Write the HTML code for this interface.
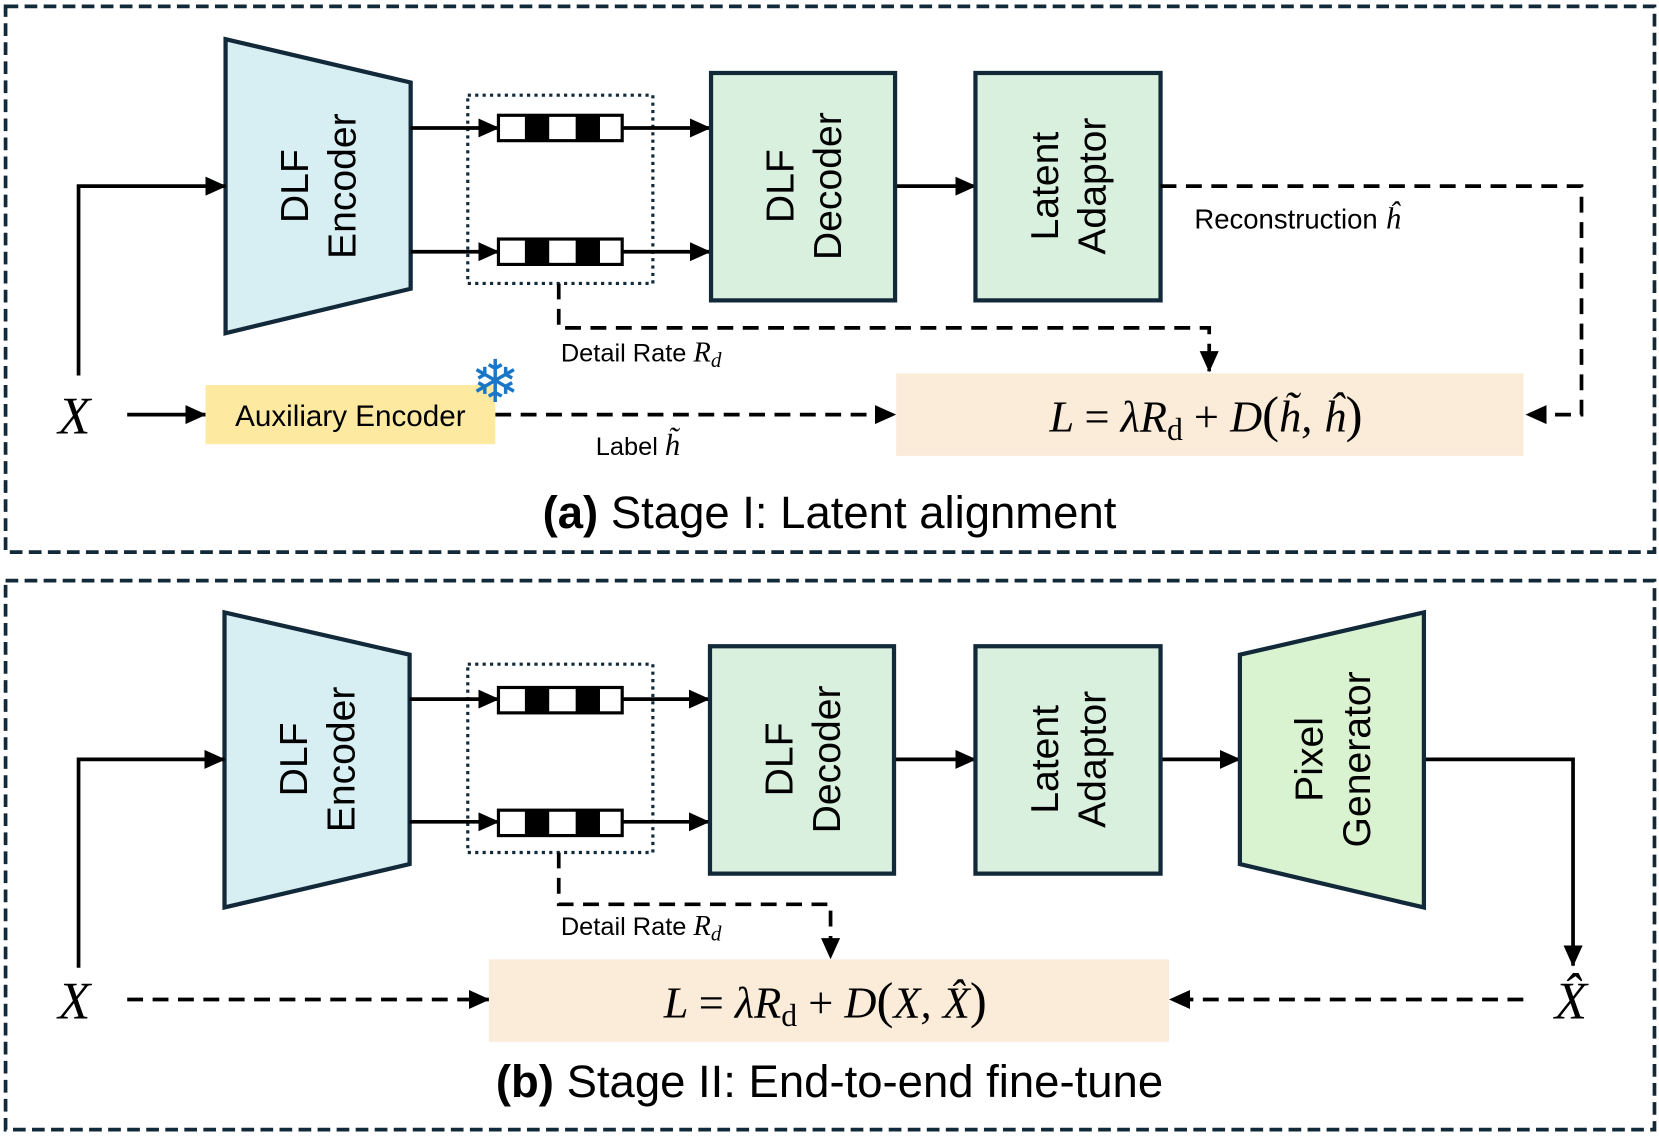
<!DOCTYPE html>
<html><head><meta charset="utf-8"><style>
html,body{margin:0;padding:0;background:#fff;}
svg{display:block;}
.s{font-family:"Liberation Sans",sans-serif;}
.m{font-family:"Liberation Serif",serif;font-style:italic;}
</style></head><body>
<svg width="1659" height="1137" viewBox="0 0 1568 1075" xmlns="http://www.w3.org/2000/svg">
<defs>
<marker id="ab" markerWidth="20" markerHeight="18" refX="19" refY="9" orient="auto" markerUnits="userSpaceOnUse" viewBox="0 0 20 18"><path d="M0,0 L20,9 L0,18 z" fill="#000"/></marker>
</defs>
<g fill="none" stroke="#12293a" stroke-width="3.5" stroke-dasharray="12,6">
<rect x="5" y="6" width="1559" height="516"/>
<rect x="5" y="549" width="1559" height="519"/>
</g>

<!-- ===== Stage I ===== -->
<polygon points="213,37 388,78 388,273 213,315" fill="#d7eef3" stroke="#12293a" stroke-width="4"/>
<text class="s" font-size="37" text-anchor="middle" transform="translate(300,176) rotate(-90)"><tspan x="0" y="-9">DLF</tspan><tspan x="0" y="36">Encoder</tspan></text>
<rect x="442" y="90" width="175" height="178" fill="none" stroke="#12293a" stroke-width="3" stroke-dasharray="3,4"/>
<g stroke="#000" stroke-width="3">
<rect x="471" y="109" width="117" height="24" fill="#fff"/>
<rect x="471" y="226" width="117" height="24" fill="#fff"/>
</g>
<g fill="#000"><rect x="496" y="109" width="23" height="24"/><rect x="544" y="109" width="23" height="24"/>
<rect x="496" y="226" width="23" height="24"/><rect x="544" y="226" width="23" height="24"/></g>
<g stroke="#000" stroke-width="3.5" fill="none" marker-end="url(#ab)">
<line x1="388" y1="121" x2="471" y2="121"/><line x1="588" y1="121" x2="671" y2="121"/>
<line x1="388" y1="238" x2="471" y2="238"/><line x1="588" y1="238" x2="671" y2="238"/>
<line x1="846" y1="176" x2="922" y2="176"/>
<polyline points="74,355 74,176 213,176"/>
<line x1="120" y1="392" x2="194" y2="392"/>
</g>
<rect x="672" y="69" width="174" height="215" fill="#d9f0df" stroke="#12293a" stroke-width="4"/>
<text class="s" font-size="37" text-anchor="middle" transform="translate(759,176) rotate(-90)"><tspan x="0" y="-9">DLF</tspan><tspan x="0" y="36">Decoder</tspan></text>
<rect x="922" y="69" width="175" height="215" fill="#d9f0df" stroke="#12293a" stroke-width="4"/>
<text class="s" font-size="37" text-anchor="middle" transform="translate(1009,176) rotate(-90)"><tspan x="0" y="-9">Latent</tspan><tspan x="0" y="36">Adaptor</tspan></text>
<g stroke="#000" stroke-width="3.5" fill="none" stroke-dasharray="15,9">
<polyline points="1097,176 1495,176 1495,392 1443,392" marker-end="url(#ab)"/>
<polyline points="528,268 528,310 1143,310 1143,351" marker-end="url(#ab)"/>
<line x1="468" y1="392" x2="846" y2="392" marker-end="url(#ab)"/>
</g>
<text class="s" x="1129" y="216" font-size="26">Reconstruction <tspan class="m" font-size="29">ĥ</tspan></text>
<text class="s" x="530" y="342" font-size="24">Detail Rate <tspan class="m" font-size="27">R<tspan font-size="20" dy="5">d</tspan></tspan></text>
<rect x="847" y="353" width="593" height="78" fill="#fbebd9"/>
<text class="m" x="1140" y="408" font-size="42" text-anchor="middle">L <tspan font-style="normal">=</tspan> λR<tspan font-style="normal" font-size="30" dy="8">d</tspan><tspan dy="-8" font-style="normal"> + </tspan>D<tspan font-style="normal" font-size="48">(</tspan>h̃, ĥ<tspan font-style="normal" font-size="48">)</tspan></text>
<text class="m" x="70" y="410" font-size="50" text-anchor="middle">X</text>
<rect x="194" y="364" width="274" height="56" fill="#fde9a0"/>
<text class="s" x="331" y="403" font-size="28" text-anchor="middle">Auxiliary Encoder</text>
<text x="468" y="380" font-size="56" fill="#1a76c8" text-anchor="middle" font-family="DejaVu Sans,sans-serif">❄</text>
<text class="s" x="563" y="430" font-size="24">Label <tspan class="m" font-size="29">h̃</tspan></text>
<text class="s" x="784" y="499" font-size="43" text-anchor="middle"><tspan font-weight="bold">(a)</tspan> Stage I: Latent alignment</text>

<!-- ===== Stage II ===== -->
<polygon points="212,579 387,619 387,817 212,858" fill="#d7eef3" stroke="#12293a" stroke-width="4"/>
<text class="s" font-size="37" text-anchor="middle" transform="translate(299,718) rotate(-90)"><tspan x="0" y="-9">DLF</tspan><tspan x="0" y="36">Encoder</tspan></text>
<rect x="442" y="628" width="175" height="178" fill="none" stroke="#12293a" stroke-width="3" stroke-dasharray="3,4"/>
<g stroke="#000" stroke-width="3">
<rect x="471" y="650" width="117" height="24" fill="#fff"/>
<rect x="471" y="766" width="117" height="24" fill="#fff"/>
</g>
<g fill="#000"><rect x="496" y="650" width="23" height="24"/><rect x="544" y="650" width="23" height="24"/>
<rect x="496" y="766" width="23" height="24"/><rect x="544" y="766" width="23" height="24"/></g>
<g stroke="#000" stroke-width="3.5" fill="none" marker-end="url(#ab)">
<line x1="387" y1="661" x2="471" y2="661"/><line x1="588" y1="661" x2="670" y2="661"/>
<line x1="387" y1="777" x2="471" y2="777"/><line x1="588" y1="777" x2="670" y2="777"/>
<line x1="845" y1="718" x2="922" y2="718"/>
<line x1="1097" y1="718" x2="1172" y2="718"/>
<polyline points="74,915 74,718 212,718"/>
<polyline points="1346,718 1487,718 1487,913"/>
</g>
<rect x="671" y="611" width="174" height="215" fill="#d9f0df" stroke="#12293a" stroke-width="4"/>
<text class="s" font-size="37" text-anchor="middle" transform="translate(758,718) rotate(-90)"><tspan x="0" y="-9">DLF</tspan><tspan x="0" y="36">Decoder</tspan></text>
<rect x="922" y="611" width="175" height="215" fill="#d9f0df" stroke="#12293a" stroke-width="4"/>
<text class="s" font-size="37" text-anchor="middle" transform="translate(1009,718) rotate(-90)"><tspan x="0" y="-9">Latent</tspan><tspan x="0" y="36">Adaptor</tspan></text>
<polygon points="1172,619 1346,579 1346,858 1172,817" fill="#d9f2d0" stroke="#12293a" stroke-width="4"/>
<text class="s" font-size="37" text-anchor="middle" transform="translate(1259,718) rotate(-90)"><tspan x="0" y="-9">Pixel</tspan><tspan x="0" y="36">Generator</tspan></text>
<g stroke="#000" stroke-width="3.5" fill="none" stroke-dasharray="15,9">
<polyline points="528,806 528,855 785,855 785,906" marker-end="url(#ab)"/>
<line x1="120" y1="945" x2="462" y2="945" marker-end="url(#ab)"/>
<line x1="1440" y1="945" x2="1106" y2="945" marker-end="url(#ab)"/>
</g>
<text class="s" x="530" y="884" font-size="24">Detail Rate <tspan class="m" font-size="27">R<tspan font-size="20" dy="5">d</tspan></tspan></text>
<rect x="462" y="907" width="643" height="78" fill="#fbebd9"/>
<text class="m" x="780" y="962" font-size="42" text-anchor="middle">L <tspan font-style="normal">=</tspan> λR<tspan font-style="normal" font-size="30" dy="8">d</tspan><tspan dy="-8" font-style="normal"> + </tspan>D<tspan font-style="normal" font-size="48">(</tspan>X, X̂<tspan font-style="normal" font-size="48">)</tspan></text>
<text class="m" x="70" y="963" font-size="50" text-anchor="middle">X</text>
<text class="m" x="1485" y="963" font-size="50" text-anchor="middle">X̂</text>
<text class="s" x="784" y="1037" font-size="43" text-anchor="middle"><tspan font-weight="bold">(b)</tspan> Stage II: End-to-end fine-tune</text>
</svg>
</body></html>
